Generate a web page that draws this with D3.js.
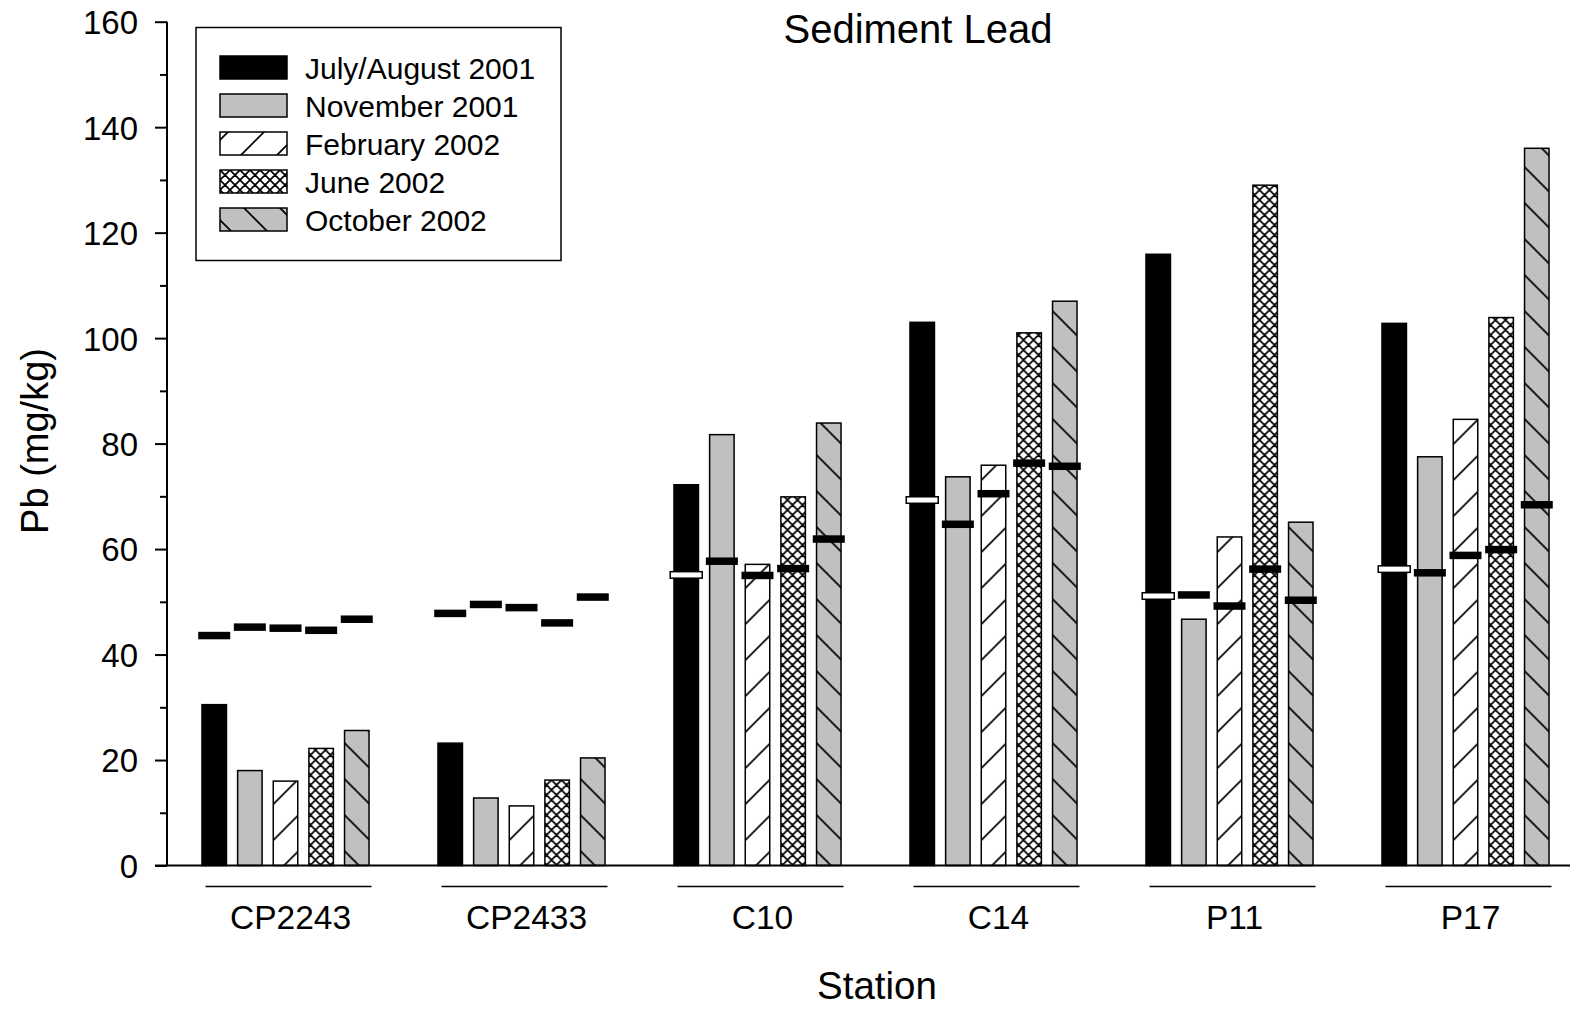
<!DOCTYPE html>
<html>
<head>
<meta charset="utf-8">
<script src="https://cdn.jsdelivr.net/npm/d3@7"></script>
<style>
  html, body { margin: 0; padding: 0; background: #fff; }
  svg { display: block; font-family: "Liberation Sans", Arial, sans-serif; }
</style>
</head>
<body>
<svg id="chart" width="1570" height="1009"></svg>
<script>
// ---- Data ----
const stations = ["CP2243", "CP2433", "C10", "C14", "P11", "P17"];
const seriesNames = ["July/August 2001", "November 2001", "February 2002", "June 2002", "October 2002"];

const julyAug2001 = [30.5, 23.2, 72.2, 103.0, 115.9, 102.8];
const november2001 = [18.0, 12.8, 81.7, 73.7, 46.7, 77.5];
const february2002 = [16.0, 11.3, 57.1, 75.9, 62.3, 84.6];
const june2002 = [22.2, 16.2, 69.9, 101.0, 129.0, 103.9];
const october2002 = [25.6, 20.4, 83.9, 107.0, 65.1, 136.0];

const julyAug2001Mark = [43.6, 47.8, 55.1, 69.3, 51.1, 56.2];
const november2001Mark = [45.2, 49.5, 57.7, 64.7, 51.3, 55.5];
const february2002Mark = [45.0, 48.9, 55.0, 70.5, 49.2, 58.8];
const june2002Mark = [44.6, 46.0, 56.3, 76.3, 56.2, 59.9];
const october2002Mark = [46.7, 50.9, 61.9, 75.7, 50.3, 68.4];

const majorTicks = [0, 20, 40, 60, 80, 100, 120, 140, 160];
const minorTicks = [10, 30, 50, 70, 90, 110, 130, 150];

const seriesValues = [julyAug2001, november2001, february2002, june2002, october2002];
const seriesMarks = [julyAug2001Mark, november2001Mark, february2002Mark, june2002Mark, october2002Mark];

// ---- Setup ----
const svg = d3.select("#chart");
const FONT = "Liberation Sans, Arial, sans-serif";

const y = d3.scaleLinear().domain([0, 160]).range([865.5, 21.7]);
const x0 = d3.scaleBand().domain(stations).range([167.5, 1583.5]).padding(0);
const x1 = d3.scaleBand().domain(seriesNames).range([-89.1, 89.1])
  .paddingInner(0.285).paddingOuter(0.1425);
const GRAY = "#c0c0c0";

// ---- Patterns ----
const defs = svg.append("defs");
function hatchPattern(id, bg, dir, size, sw) {
  const p = defs.append("pattern").attr("id", id)
    .attr("patternUnits", "userSpaceOnUse")
    .attr("width", size).attr("height", size);
  p.append("rect").attr("width", size).attr("height", size).attr("fill", bg);
  const paths = [];
  if (dir === "fwd" || dir === "both") {
    paths.push(`M0,${size} L${size},0 M${-size/2},${size/2} L${size/2},${-size/2} M${size/2},${size*1.5} L${size*1.5},${size/2}`);
  }
  if (dir === "back" || dir === "both") {
    paths.push(`M0,0 L${size},${size} M${-size/2},${size/2} L${size/2},${size*1.5} M${size/2},${-size/2} L${size*1.5},${size/2}`);
  }
  p.append("path").attr("d", paths.join(" "))
    .attr("stroke", "#000").attr("stroke-width", sw).attr("fill", "none");
}
hatchPattern("pFeb", "#fff", "fwd", 36, 1.7);
hatchPattern("pOct", GRAY, "back", 36, 1.7);
hatchPattern("pJune", "#fff", "both", 10, 1.7);

const fills = ["#000", GRAY, "url(#pFeb)", "url(#pJune)", "url(#pOct)"];

// ---- Bars ----
const barW = x1.bandwidth() - 1;
const groups = svg.append("g").selectAll("g")
  .data(stations).join("g")
  .attr("transform", d => `translate(${x0(d) + x0.bandwidth() / 2},0)`);

groups.each(function(st, si) {
  const g = d3.select(this);
  seriesNames.forEach((name, k) => {
    const v = seriesValues[k][si];
    g.append("rect")
      .attr("x", x1(name) + 0.5)
      .attr("y", y(v))
      .attr("width", barW)
      .attr("height", y(0) - y(v))
      .attr("fill", fills[k])
      .attr("stroke", "#000")
      .attr("stroke-width", 1.5);
  });
});

// ---- Markers ----
groups.each(function(st, si) {
  const g = d3.select(this);
  seriesNames.forEach((name, k) => {
    const m = seriesMarks[k][si];
    const inside = k === 0 && m < seriesValues[k][si];
    const cx = x1(name) + x1.bandwidth() / 2;
    const mw = 32, mh = inside ? 6.5 : 7.5;
    g.append("rect")
      .attr("x", cx - mw / 2)
      .attr("y", y(m) - mh / 2)
      .attr("width", mw)
      .attr("height", mh)
      .attr("fill", inside ? "#fff" : "#000")
      .attr("stroke", "#000")
      .attr("stroke-width", inside ? 1.5 : 0);
  });
});

// ---- Group underlines and labels ----
groups.append("line")
  .attr("x1", -80).attr("x2", 86)
  .attr("y1", 886.5).attr("y2", 886.5)
  .attr("stroke", "#000").attr("stroke-width", 1.5);
groups.append("text")
  .attr("x", 5).attr("y", 929)
  .attr("text-anchor", "middle")
  .attr("font-size", 33.5).attr("font-family", FONT)
  .attr("fill", "#000")
  .text(d => d);

// ---- Y axis ----
const yAxisMajor = d3.axisLeft(y).tickValues(majorTicks).tickSize(12).tickSizeOuter(0).tickPadding(17);
const yAxisMinor = d3.axisLeft(y).tickValues(minorTicks).tickSize(7).tickSizeOuter(0).tickFormat("");
const axG = svg.append("g").attr("transform", "translate(167,0)").call(yAxisMajor);
const axG2 = svg.append("g").attr("transform", "translate(167,0)").call(yAxisMinor);
[axG, axG2].forEach(a => {
  a.select(".domain").remove();
  a.selectAll(".tick line").attr("stroke", "#000").attr("stroke-width", 2);
});
axG.selectAll(".tick text")
  .attr("font-size", 33).attr("font-family", FONT).attr("fill", "#000")
  .attr("dy", "0.36em");

svg.append("line")
  .attr("x1", 167).attr("x2", 167)
  .attr("y1", y(160)).attr("y2", y(0))
  .attr("stroke", "#000").attr("stroke-width", 2);
svg.append("line")
  .attr("x1", 155).attr("x2", 1570)
  .attr("y1", y(0)).attr("y2", y(0))
  .attr("stroke", "#000").attr("stroke-width", 2);

// ---- Titles ----
svg.append("text")
  .attr("x", 918).attr("y", 43)
  .attr("text-anchor", "middle")
  .attr("font-size", 40).attr("font-family", FONT)
  .text("Sediment Lead");
svg.append("text")
  .attr("x", 877).attr("y", 999)
  .attr("text-anchor", "middle")
  .attr("font-size", 38.5).attr("font-family", FONT)
  .text("Station");
svg.append("text")
  .attr("transform", "translate(48,441) rotate(-90)")
  .attr("text-anchor", "middle")
  .attr("font-size", 38).attr("font-family", FONT)
  .text("Pb (mg/kg)");

// ---- Legend ----
const leg = svg.append("g");
leg.append("rect")
  .attr("x", 196).attr("y", 27.5).attr("width", 365).attr("height", 233)
  .attr("fill", "#fff").attr("stroke", "#000").attr("stroke-width", 1.5);
seriesNames.forEach((name, k) => {
  const top = 56 + k * 38;
  leg.append("rect")
    .attr("x", 220).attr("y", top).attr("width", 67).attr("height", 23)
    .attr("fill", fills[k]).attr("stroke", "#000").attr("stroke-width", 1.5);
  leg.append("text")
    .attr("x", 305).attr("y", top + 23)
    .attr("font-size", 30).attr("font-family", FONT)
    .text(name);
});
</script>
</body>
</html>
